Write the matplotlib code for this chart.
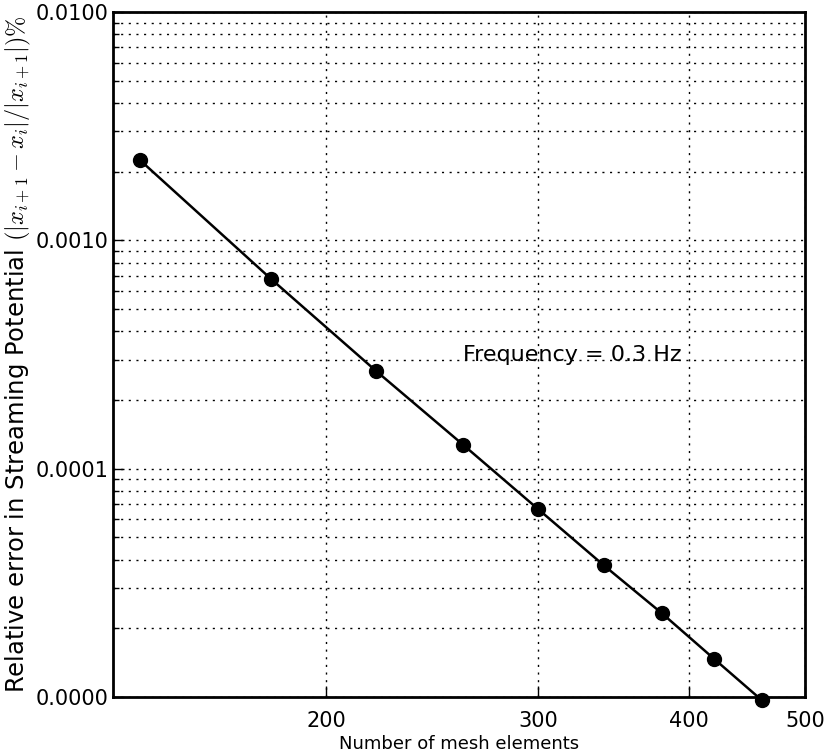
import matplotlib
matplotlib.use("Agg")
import matplotlib.pyplot as plt
from matplotlib.ticker import FixedLocator, FixedFormatter, NullFormatter, LogLocator

plt.rcParams["mathtext.fontset"] = "cm"

# mesh size vs relative error
n_elements = [140, 180, 220, 260, 300, 340, 380, 420, 460]
rel_error = [2.25e-3, 6.77e-4, 2.68e-4, 1.27e-4, 6.65e-5, 3.78e-5, 2.33e-5, 1.47e-5, 9.7e-6]

x_ticks = [200, 300, 400, 500]
x_ticklabels = ["200", "300", "400", "500"]
y_ticks = [1e-5, 1e-4, 1e-3, 1e-2]
y_ticklabels = ["0.0000", "0.0001", "0.0010", "0.0100"]

fig = plt.figure(figsize=(8.25, 7.56), dpi=100)
ax = fig.add_axes([0.137, 0.078, 0.839, 0.906])

ax.plot(n_elements, rel_error, "k-", lw=1.8, marker="o", ms=10, clip_on=False, zorder=3)
ax.set_xscale("log")
ax.set_yscale("log")
ax.set_xlim(133, 500)
ax.set_ylim(1e-5, 1e-2)

ax.xaxis.set_major_locator(FixedLocator(x_ticks))
ax.xaxis.set_major_formatter(FixedFormatter(x_ticklabels))
ax.xaxis.set_minor_locator(FixedLocator([]))
ax.xaxis.set_minor_formatter(NullFormatter())
ax.yaxis.set_major_locator(FixedLocator(y_ticks))
ax.yaxis.set_major_formatter(FixedFormatter(y_ticklabels))
ax.yaxis.set_minor_locator(LogLocator(base=10, subs=range(2, 10)))
ax.yaxis.set_minor_formatter(NullFormatter())

ax.grid(True, which="major", color="k", ls=(0, (1.5, 4)), lw=1)
ax.grid(True, which="minor", axis="y", color="k", ls=(0, (1.5, 4)), lw=1)

ax.tick_params(which="both", direction="in", labelsize=15, length=8, width=1)
ax.tick_params(which="minor", length=4)
ax.tick_params(axis="x", pad=10)
for s in ax.spines.values():
    s.set_linewidth(2)

ax.set_xlabel("Number of mesh elements", fontsize=13, labelpad=3)
ax.set_ylabel(r"Relative error in Streaming Potential $(|x_{i+1}-x_i|/|x_{i+1}|)\%$", fontsize=17.5, labelpad=2)
ax.text(0.505, 0.5, "Frequency = 0.3 Hz", transform=ax.transAxes, fontsize=16, va="center")

plt.savefig("out.png", dpi=100)
